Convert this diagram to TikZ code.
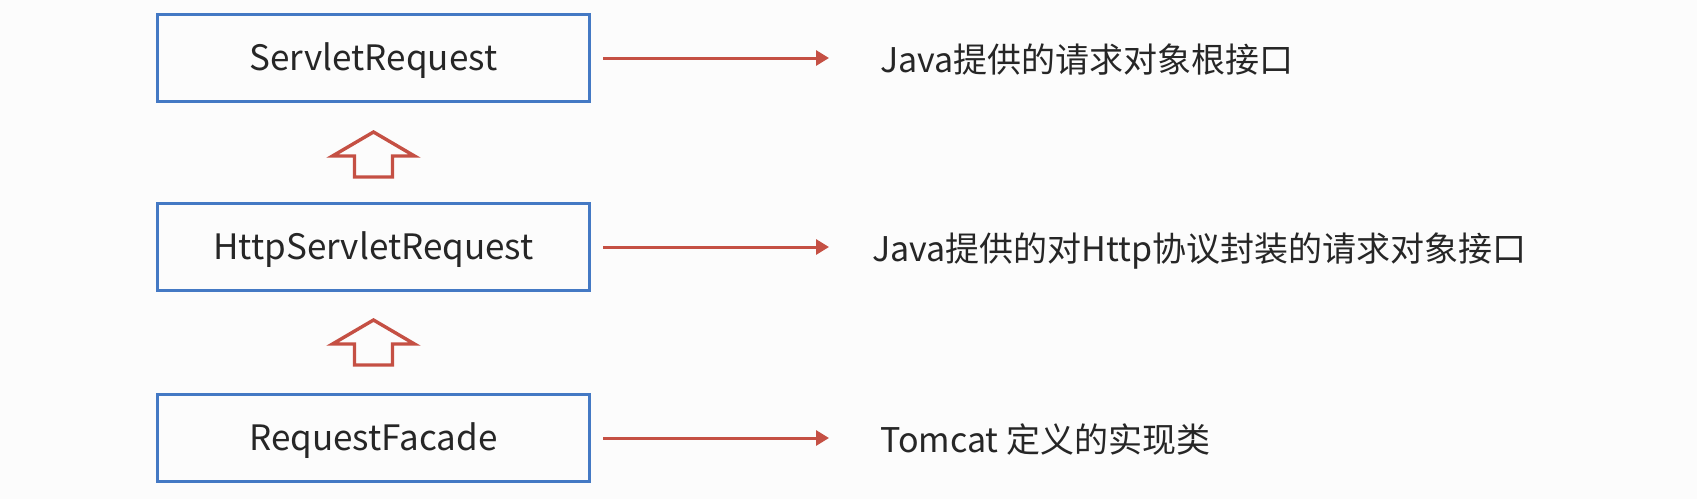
\documentclass[tikz,border=0pt]{standalone}
\usepackage{fontspec}
\setmainfont{Noto Sans CJK SC}
\usetikzlibrary{arrows.meta}
\definecolor{boxblue}{RGB}{68,121,196}
\definecolor{arrred}{RGB}{197,80,68}
\tikzstyle{class} = [rectangle, draw=boxblue, line width=1.5pt, minimum width=216pt, minimum height=43.5pt, text centered, text height=15pt, text depth=2.5pt, text=black!85, font=\fontsize{17.5}{21}\selectfont]
\tikzstyle{note} = [anchor=west, inner sep=0pt, text height=16.5pt, text depth=1.6pt, text=black!85, font=\fontsize{17}{20}\selectfont]
\tikzstyle{arrow} = [draw=arrred, line width=1.5pt, -{Triangle[length=6.5pt,width=7.5pt]}, shorten <=6pt, shorten >=25.5pt]
\tikzstyle{inherit} = [draw=arrred, line width=1.7pt]
\tikzset{hollowup/.pic={\draw[inherit] (0,-22.5) -- (41,1.5) -- (19,1.5) -- (19,22.5) -- (-19,22.5) -- (-19,1.5) -- (-41,1.5) -- cycle;}}

\begin{document}
\begin{tikzpicture}[x=0.5pt, y=-0.5pt]
    \useasboundingbox[fill=white!99!black] (0,0) rectangle (1697,499);
    \node [class] at (373.5,58) (req) {ServletRequest};
    \node [class] at (373.5,247) (http) {HttpServletRequest};
    \node [class] at (373.5,438) (facade) {RequestFacade};
    \node [note] at (880,58) (note1) {Java提供的请求对象根接口};
    \node [note] at (872,247) (note2) {Java提供的对Http协议封装的请求对象接口};
    \node [note] at (880,438) (note3) {Tomcat 定义的实现类};
    \draw [arrow] (req) -- (note1);
    \draw [arrow] (http) -- ([xshift=4pt]note2.west);
    \draw [arrow] (facade) -- (note3);
    \pic at (373.5,154.5) {hollowup};
    \pic at (373.5,342.5) {hollowup};
\end{tikzpicture}
\end{document}
